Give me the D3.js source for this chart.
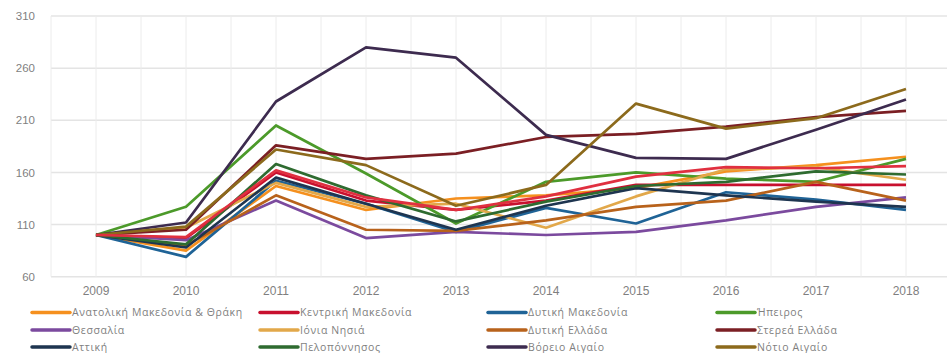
<!DOCTYPE html>
<html><head><meta charset="utf-8">
<script src="https://cdn.jsdelivr.net/npm/d3@7"></script>
<style>
html,body{margin:0;padding:0;background:#fff;}
svg{display:block;font-family:"Open Sans","Noto Sans",sans-serif;}
</style></head>
<body><svg id="c" width="947" height="353"></svg>
<script>
const years = ["2009","2010","2011","2012","2013","2014","2015","2016","2017","2018"];
const yTicks = [60,110,160,210,260,310];
const seriesNames = ["Ανατολική Μακεδονία & Θράκη","Κεντρική Μακεδονία","Δυτική Μακεδονία","Ήπειρος",
  "Θεσσαλία","Ιόνια Νησιά","Δυτική Ελλάδα","Στερεά Ελλάδα",
  "Αττική","Πελοπόννησος","Βόρειο Αιγαίο","Νότιο Αιγαίο","Κρήτη"];
const seriesColors = ["#f5901e","#c8102e","#1f6396","#4c9a2a",
  "#7b4a9e","#e2a84a","#b8621b","#7b1f24",
  "#1e3550","#2e6b30","#3d2b4f","#8c6a1c","#e03040"];
const anatMak   = [100, 85,147,124,135,138,145,161,167,175];
const kentMak   = [100, 97,160,133,124,133,148,148,148,148];
const dytMak    = [100, 79,152,130,103,126,111,141,134,124];
const ipeiros   = [100,127,205,159,111,151,160,154,151,173];
const thessalia = [100, 95,133, 97,103,100,103,114,127,136];
const ionia     = [100,107,150,127,130,107,137,163,165,153];
const dytEll    = [100, 90,138,105,104,114,127,133,151,133];
const sterea    = [100,105,186,173,178,194,197,204,213,219];
const attiki    = [100, 88,155,130,105,128,145,138,132,127];
const pelop     = [100, 91,168,138,113,132,147,151,161,158];
const voreio    = [100,112,228,280,270,196,174,173,201,230];
const notio     = [100,108,182,167,128,148,226,202,212,240];
const kriti     = [100, 98,162,136,124,137,156,165,164,166];
const seriesValues = [anatMak,kentMak,dytMak,ipeiros,thessalia,ionia,dytEll,sterea,attiki,pelop,voreio,notio,kriti];

const svg = d3.select("#c");
const x = d3.scaleBand().domain(years).range([51, 951]).padding(0);
const bw = x.bandwidth();
const cx = d => x(d) + bw/2;
const y = d3.scaleLinear().domain([60,310]).range([276.7, 16]);

// gridlines
const grid = svg.append("g");
yTicks.forEach(t => {
  grid.append("line").attr("x1", 51).attr("x2", 947).attr("y1", y(t)).attr("y2", y(t))
    .attr("stroke", "#e4e4e4").attr("stroke-width", 1.5);
});
years.forEach(yr => {
  [x(yr), cx(yr)].forEach(px => {
    grid.append("line").attr("x1", px).attr("x2", px).attr("y1", y(310)).attr("y2", y(60))
      .attr("stroke", "#ececec").attr("stroke-width", 1);
  });
});

// y axis labels
const yAxis = d3.axisLeft(y).tickValues(yTicks).tickSize(0).tickPadding(16);
const ya = svg.append("g").attr("transform", "translate(51,0)").call(yAxis);
ya.select(".domain").remove();
ya.selectAll("text").attr("fill", "#7f7f7f").style("font-size", "11.5px");

// x axis labels
const xAxis = d3.axisBottom(x).tickSize(0).tickPadding(10);
const xa = svg.append("g").attr("transform", "translate(0," + y(60) + ")").call(xAxis);
xa.select(".domain").remove();
xa.selectAll("text").attr("fill", "#7f7f7f").style("font-size", "12px");

// lines
const line = d3.line().x((d,i) => cx(years[i])).y(d => y(d));
seriesValues.forEach((vals, k) => {
  svg.append("path").datum(vals).attr("d", line).attr("fill", "none")
    .attr("stroke", seriesColors[k]).attr("stroke-width", 2.7)
    .attr("stroke-linejoin", "round");
});

// legend (first 12 entries visible)
const colX = [32, 260, 488, 717];
const rowY = [312.5, 330, 347];
seriesNames.slice(0, 12).forEach((name, k) => {
  const c = k % 4, r = Math.floor(k / 4);
  const g = svg.append("g");
  g.append("line").attr("x1", colX[c]).attr("x2", colX[c] + 38).attr("y1", rowY[r]).attr("y2", rowY[r])
    .attr("stroke", seriesColors[k]).attr("stroke-width", 3.5).attr("stroke-linecap", "round");
  g.append("text").attr("x", colX[c] + 40).attr("y", rowY[r] + 3.8).text(name)
    .attr("fill", "#7f7f7f").style("font-size", "10.5px").style("letter-spacing", "0.6px");
});
</script></body></html>
